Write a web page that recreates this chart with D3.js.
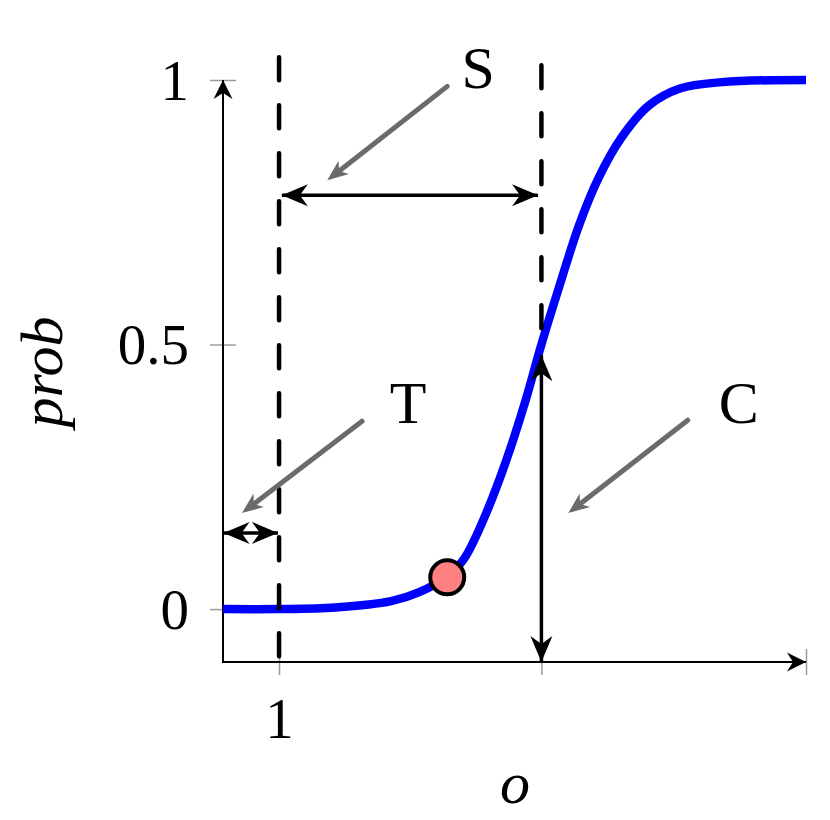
<!DOCTYPE html>
<html>
<head>
<meta charset="utf-8">
<script src="https://cdn.jsdelivr.net/npm/d3@7"></script>
<style>
  body { margin: 0; background: #fff; }
  text { font-family: "Liberation Serif", "DejaVu Serif", serif; fill: #000; }
</style>
</head>
<body>
<svg id="chart" width="830" height="820"></svg>
<script>
// sigmoid
var curveX = [0, 1, 2, 3, 3.5, 4, 4.3, 4.65, 5.05, 5.4, 5.68, 6, 6.35, 6.7, 7.1, 7.6, 8.15, 8.9, 10.4];
var curveY = [0, 0, 0.003, 0.015, 0.032, 0.062, 0.095, 0.17, 0.28, 0.395, 0.5, 0.61, 0.725, 0.815, 0.89, 0.952, 0.984, 0.996, 1];

var threshold = 1;      // T
var center = 5.68;      // C
var markPoint = [4.0, 0.06];

var yTicks = [0, 0.5, 1];
var yTickLabels = ["0", "0.5", "1"];
var xTicks = [1, 5.68, 10.4];
var xTickLabels = ["1", "", ""];

var labels = [
	{text: "S", x: 4.55, y: 0.985},
	{text: "T", x: 3.3, y: 0.352},
	{text: "C", x: 9.2, y: 0.352}
];
// gray pointer arrows [from, to]
var pointers = [
	[[4.0, 0.988], [2.0, 0.822]],
	[[2.48, 0.355], [0.48, 0.193]],
	[[8.29, 0.357], [6.30, 0.193]]
];

var svg = d3.select("#chart");

var x = d3.scaleLinear().domain([0, 10.4]).range([223, 806]);
var y = d3.scaleLinear().domain([-0.1, 1]).range([662, 80]);

var defs = svg.append("defs");
function marker(id, d, color, refX) {
	defs.append("marker")
		.attr("id", id)
		.attr("viewBox", "-40 -20 42 40")
		.attr("markerUnits", "userSpaceOnUse")
		.attr("markerWidth", 42)
		.attr("markerHeight", 40)
		.attr("refX", refX)
		.attr("refY", 0)
		.attr("orient", "auto-start-reverse")
		.append("path")
		.attr("d", d)
		.attr("fill", color);
}
marker("bhead", "M0,0 L-26,-11 L-18,0 L-26,11 Z", "#000", 0);
marker("axhead", "M0,0 L-19,-9.5 L-13,0 L-19,9.5 Z", "#000", 0);
marker("ghead", "M0,0 L-21,-8.5 L-15,0 L-21,8.5 Z", "#6b6b6b", -10);

/* ------- AXES -------*/

var yAxis = svg.append("g")
	.attr("transform", "translate(" + x(0) + ",0)")
	.call(d3.axisLeft(y).tickValues(yTicks).tickSize(13)
		.tickFormat(function(d, i) { return yTickLabels[i]; }));
yAxis.select(".domain").remove();
yAxis.selectAll(".tick line")
	.attr("x1", 13).attr("x2", -13)
	.attr("stroke", "#999").attr("stroke-width", 1.5);
yAxis.selectAll(".tick text")
	.attr("x", -34).attr("dy", "0.34em")
	.style("font-size", "57px");

var xAxis = svg.append("g")
	.attr("transform", "translate(0," + y(-0.1) + ")")
	.call(d3.axisBottom(x).tickValues(xTicks).tickSize(13)
		.tickFormat(function(d, i) { return xTickLabels[i]; }));
xAxis.select(".domain").remove();
xAxis.selectAll(".tick line")
	.attr("y1", -13).attr("y2", 13)
	.attr("stroke", "#999").attr("stroke-width", 1.5);
xAxis.selectAll(".tick text")
	.attr("y", 36).attr("dy", "0.71em")
	.style("font-size", "57px");

svg.append("line")
	.attr("x1", x(0)).attr("y1", y(-0.1))
	.attr("x2", x(0)).attr("y2", y(1))
	.attr("stroke", "#000").attr("stroke-width", 2)
	.attr("marker-end", "url(#axhead)");
svg.append("line")
	.attr("x1", x(0) - 1).attr("y1", y(-0.1))
	.attr("x2", x(10.4)).attr("y2", y(-0.1))
	.attr("stroke", "#000").attr("stroke-width", 2)
	.attr("marker-end", "url(#axhead)");

svg.append("text")
	.attr("transform", "translate(62," + 372 + ") rotate(-90)")
	.attr("text-anchor", "middle")
	.style("font-size", "60px")
	.style("font-style", "italic")
	.text("prob");
svg.append("text")
	.attr("x", 515).attr("y", 803)
	.attr("text-anchor", "middle")
	.style("font-size", "60px")
	.style("font-style", "italic")
	.text("o");

/* ------- CURVE -------*/

var pts = curveX.map(function(d, i) { return [d, curveY[i]]; });
var line = d3.line()
	.x(function(d) { return x(d[0]); })
	.y(function(d) { return y(d[1]); })
	.curve(d3.curveCatmullRom.alpha(0.5));

svg.append("path")
	.datum(pts)
	.attr("d", line)
	.attr("fill", "none")
	.attr("stroke", "#0000ff")
	.attr("stroke-width", 8.5);

/* ------- DASHED LINES -------*/

svg.append("line")
	.attr("x1", x(threshold)).attr("y1", y(1.043))
	.attr("x2", x(threshold)).attr("y2", y(-0.1))
	.attr("stroke", "#000").attr("stroke-width", 4.5)
	.attr("stroke-linecap", "round")
	.attr("stroke-dasharray", "23,25");
svg.append("line")
	.attr("x1", x(center)).attr("y1", y(1.028))
	.attr("x2", x(center)).attr("y2", y(0.5))
	.attr("stroke", "#000").attr("stroke-width", 4.5)
	.attr("stroke-linecap", "round")
	.attr("stroke-dasharray", "23,25");

/* ------- DIMENSION ARROWS -------*/

var dims = [
	[[threshold + 0.05, 0.782], [center - 0.06, 0.782]],
	[[0.01, 0.144], [threshold - 0.02, 0.144]],
	[[center, -0.1], [center, 0.48]]
];
svg.selectAll("line.dim")
	.data(dims)
	.enter().append("line")
	.attr("class", "dim")
	.attr("x1", function(d) { return x(d[0][0]); })
	.attr("y1", function(d) { return y(d[0][1]); })
	.attr("x2", function(d) { return x(d[1][0]); })
	.attr("y2", function(d) { return y(d[1][1]); })
	.attr("stroke", "#000").attr("stroke-width", 3.5)
	.attr("marker-start", "url(#bhead)")
	.attr("marker-end", "url(#bhead)");

/* ------- POINTERS AND LABELS -------*/

svg.selectAll("line.pointer")
	.data(pointers)
	.enter().append("line")
	.attr("class", "pointer")
	.attr("x1", function(d) { return x(d[0][0]); })
	.attr("y1", function(d) { return y(d[0][1]); })
	.attr("x2", function(d) { return x(d[1][0]); })
	.attr("y2", function(d) { return y(d[1][1]); })
	.attr("stroke", "#6b6b6b").attr("stroke-width", 5)
	.attr("stroke-linecap", "round")
	.attr("marker-end", "url(#ghead)");

svg.selectAll("text.lab")
	.data(labels)
	.enter().append("text")
	.attr("class", "lab")
	.attr("x", function(d) { return x(d.x); })
	.attr("y", function(d) { return y(d.y); })
	.attr("text-anchor", "middle")
	.style("font-size", "60px")
	.text(function(d) { return d.text; });

svg.append("circle")
	.attr("cx", x(markPoint[0]))
	.attr("cy", y(markPoint[1]))
	.attr("r", 17)
	.attr("fill", "#ff8080")
	.attr("stroke", "#000")
	.attr("stroke-width", 4);
</script>
</body>
</html>
